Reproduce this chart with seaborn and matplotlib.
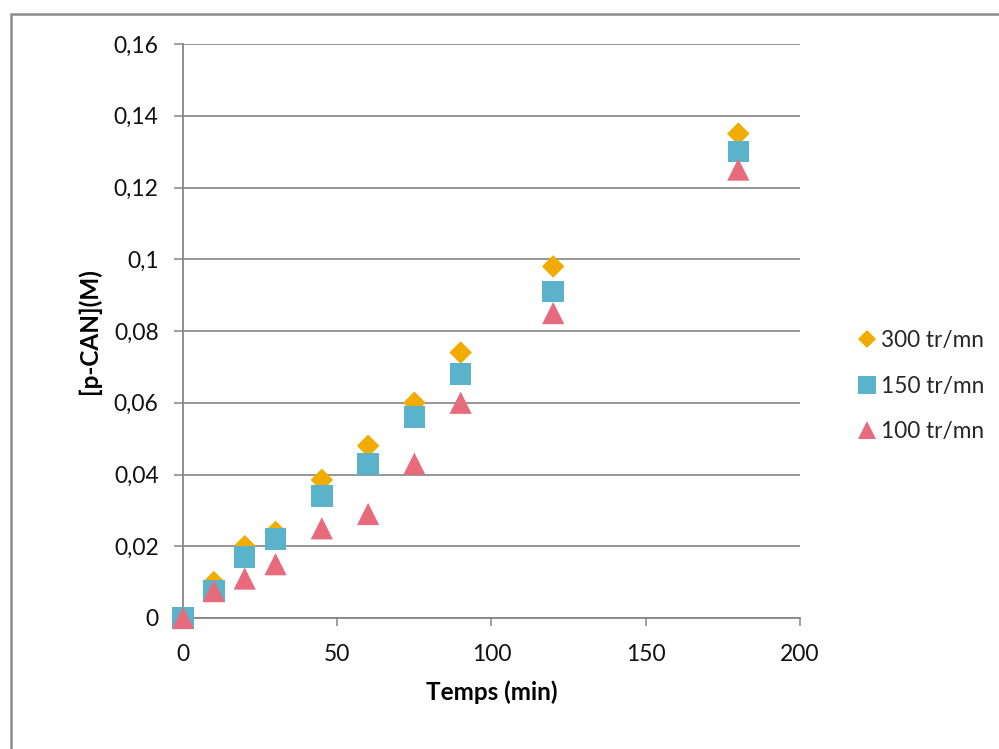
import matplotlib
matplotlib.use("Agg")
import matplotlib.pyplot as plt
import seaborn as sns
import pandas as pd
from matplotlib.lines import Line2D
from matplotlib.patches import Rectangle

# ---- data ----
temps = [0, 10, 20, 30, 45, 60, 75, 90, 120, 180]
c_300 = [0.0, 0.010, 0.020, 0.024, 0.0385, 0.048, 0.060, 0.074, 0.098, 0.135]
c_150 = [0.0, 0.0075, 0.017, 0.022, 0.034, 0.043, 0.056, 0.068, 0.091, 0.130]
c_100 = [0.0, 0.0075, 0.011, 0.015, 0.025, 0.029, 0.043, 0.060, 0.085, 0.125]
labels = ["300 tr/mn", "150 tr/mn", "100 tr/mn"]
y_ticks = [0, 0.02, 0.04, 0.06, 0.08, 0.1, 0.12, 0.14, 0.16]
y_tick_labels = ["0", "0,02", "0,04", "0,06", "0,08", "0,1", "0,12", "0,14", "0,16"]
x_ticks = [0, 50, 100, 150, 200]

colors = ["#F0AC00", "#5BB2CB", "#E76A7D"]
markers = ["D", "s", "^"]
sizes = [11.5 ** 2, 15.5 ** 2, 16 ** 2]

sns.set_theme(style="white")
plt.rcParams["font.family"] = ["Lato", "DejaVu Sans"]

fig = plt.figure(figsize=(9.99, 7.49), dpi=100)
ax = fig.add_axes([183 / 999, 1 - 618 / 749, (800 - 183) / 999, (618 - 44) / 749])

# outer chart border (left and top visible)
fig.patches.append(Rectangle((11 / 999, -0.2), 2.0, 1.2 - 14 / 749,
                             transform=fig.transFigure, fill=False,
                             edgecolor="#8C8C8C", linewidth=1.8, zorder=0))

series = [c_300, c_150, c_100]
for vals, lab, col, mk, sz in zip(series, labels, colors, markers, sizes):
    df = pd.DataFrame({"Temps": temps, "C": vals})
    sns.scatterplot(data=df, x="Temps", y="C", ax=ax, marker=mk, s=sz,
                    color=col, edgecolor="none", linewidth=0, legend=False,
                    zorder=3, clip_on=False)

ax.set_xlim(0, 200)
ax.set_ylim(0, 0.16)
ax.set_xticks(x_ticks)
ax.set_xticklabels([str(t) for t in x_ticks])
ax.set_yticks(y_ticks)
ax.set_yticklabels(y_tick_labels)

ax.grid(axis="y", color="#8E8E8E", linewidth=1.3)
ax.grid(axis="x", visible=False)
ax.set_axisbelow(True)
for s in ["top", "right"]:
    ax.spines[s].set_visible(False)
for s in ["left", "bottom"]:
    ax.spines[s].set_color("#868686")
    ax.spines[s].set_linewidth(1.3)

ax.tick_params(axis="y", direction="out", length=6.5, width=1.1, color="#868686",
               pad=11, labelsize=16.5, labelcolor="#111111", left=True)
ax.tick_params(axis="x", direction="out", length=6, width=1.1, color="#868686",
               pad=13, labelsize=16.5, labelcolor="#111111", bottom=True)

ax.set_xlabel("Temps (min)", fontsize=17.5, fontweight="bold", color="#000000", labelpad=11)
ax.set_ylabel("[p-CAN](M)", fontsize=17.5, fontweight="bold", color="#000000", labelpad=9)

handles = [Line2D([], [], linestyle="none", marker=mk, color=col, markersize=ms,
                  markeredgewidth=0)
           for mk, col, ms in zip(markers, colors, [9.5, 12.5, 12.5])]
fig.legend(handles, labels, loc="center left", bbox_to_anchor=(846 / 999, 1 - 386 / 749),
           frameon=False, fontsize=16.3, handlelength=0.85, handletextpad=0.2,
           labelspacing=1.1, borderpad=0)

fig.savefig("out.png", dpi=100)
